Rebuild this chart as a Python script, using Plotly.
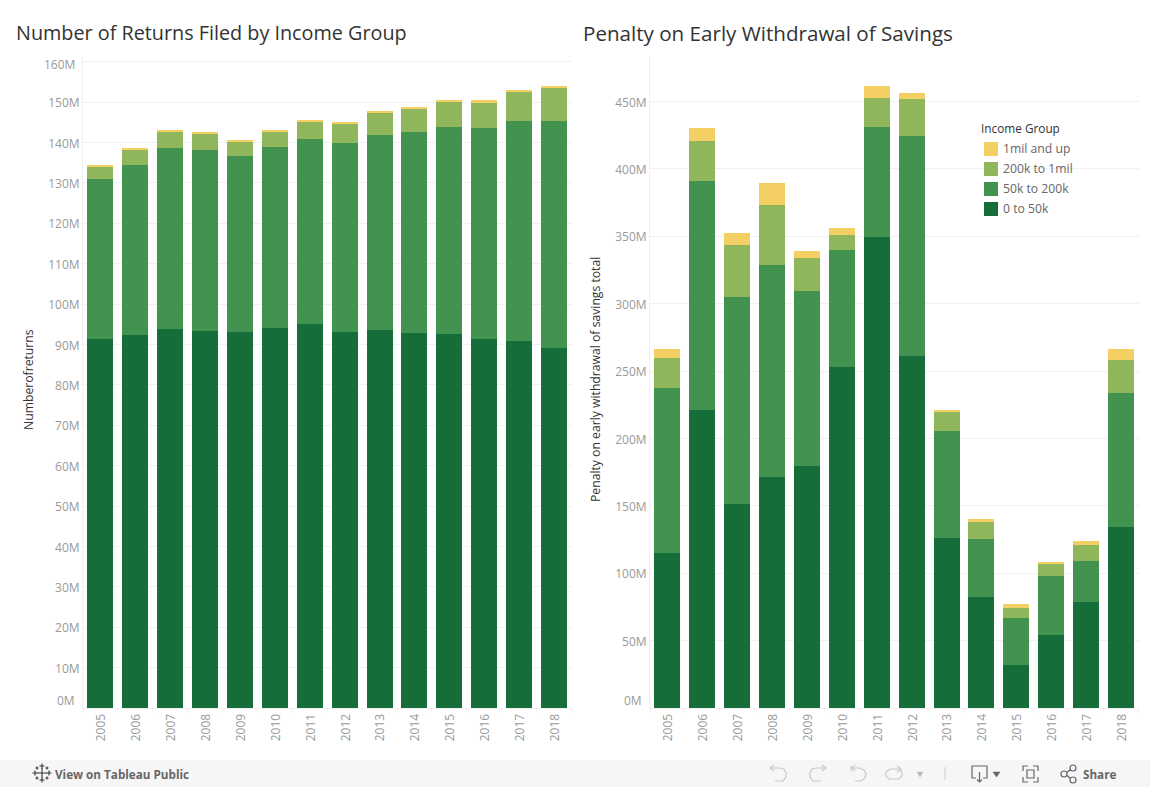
import plotly.graph_objects as go

W, H = 1150, 787
years = [str(y) for y in range(2005, 2019)]
group_names = ["0 to 50k", "50k to 200k", "200k to 1mil", "1mil and up"]
group_colors = ["#156E39", "#42934F", "#8FB65A", "#F3CF64"]

returns_0_50k = [91.3, 92.3, 93.8, 93.3, 93.0, 94.0, 95.0, 93.0, 93.5, 92.8, 92.5, 91.3, 90.8, 89.0]
returns_50_200k = [39.7, 42.1, 44.8, 44.8, 43.6, 44.9, 45.8, 46.9, 48.3, 49.8, 51.3, 52.3, 54.5, 56.3]
returns_200k_1mil = [3.1, 3.7, 4.2, 4.2, 3.7, 3.9, 4.5, 4.9, 5.5, 5.7, 6.4, 6.4, 7.2, 8.2]
returns_1mil_up = [0.3, 0.5, 0.4, 0.3, 0.4, 0.3, 0.2, 0.2, 0.3, 0.4, 0.4, 0.4, 0.5, 0.5]

penalty_0_50k = [115.0, 221.0, 151.3, 171.4, 179.5, 253.0, 349.4, 261.0, 126.0, 82.3, 31.9, 54.2, 78.6, 134.3]
penalty_50_200k = [122.4, 170.0, 153.6, 157.2, 129.8, 86.8, 81.6, 163.3, 79.5, 43.1, 34.9, 43.7, 30.4, 99.4]
penalty_200k_1mil = [22.2, 29.6, 38.6, 44.4, 24.5, 11.1, 21.5, 27.5, 14.1, 12.6, 7.4, 8.9, 11.9, 24.5]
penalty_1mil_up = [6.7, 9.7, 8.9, 16.5, 5.2, 5.1, 8.9, 4.4, 1.4, 2.2, 3.0, 1.5, 3.0, 8.1]

returns_ticks = list(range(0, 170, 10))
penalty_ticks = list(range(0, 500, 50))
returns_series = [returns_0_50k, returns_50_200k, returns_200k_1mil, returns_1mil_up]
penalty_series = [penalty_0_50k, penalty_50_200k, penalty_200k_1mil, penalty_1mil_up]

FONT = "Open Sans"
GRID = "#F0F0F0"
TICK = "#999999"


def fx(x):
    return x / W


def fy(y):
    return 1 - y / H


fig = go.Figure()
for name, color, l, r in zip(group_names, group_colors, returns_series, penalty_series):
    fig.add_bar(x=years, y=l, name=name, marker=dict(color=color, line_width=0),
                xaxis="x", yaxis="y", showlegend=False)
    fig.add_bar(x=years, y=r, name=name, marker=dict(color=color, line_width=0),
                xaxis="x2", yaxis="y2", showlegend=False)

shapes = []
annotations = []


def text(x, y, s, size=12, color="#666666", anchor="left", angle=0, family=FONT, yanchor="middle"):
    annotations.append(dict(x=fx(x), y=fy(y), xref="paper", yref="paper", text=s, showarrow=False,
                            xanchor=anchor, yanchor=yanchor, textangle=angle,
                            font=dict(size=size, color=color, family=family)))


def rect(x0, y0, x1, y1, color, layer="above"):
    shapes.append(dict(type="rect", xref="paper", yref="paper", x0=fx(x0), x1=fx(x1), y0=fy(y0), y1=fy(y1),
                       fillcolor=color, line_width=0, layer=layer))


def path(points, color, width=1.2, fill=None, close=False):
    d = ""
    for i, p in enumerate(points):
        if p is None:
            continue
        cmd = "M" if i == 0 or points[i - 1] is None else "L"
        d += f"{cmd}{fx(p[0]):.5f},{fy(p[1]):.5f} "
    if close:
        d += "Z"
    shapes.append(dict(type="path", xref="paper", yref="paper", path=d,
                       line=dict(color=color, width=width), fillcolor=fill or "rgba(0,0,0,0)"))


def circle(cx, cy, r, color, width=1.2):
    shapes.append(dict(type="circle", xref="paper", yref="paper", x0=fx(cx - r), x1=fx(cx + r),
                       y0=fy(cy - r), y1=fy(cy + r), line=dict(color=color, width=width)))


text(14, 33, "Number of Returns Filed by Income Group", size=19.8, color="#333333")
text(581, 32.5, "Penalty on Early Withdrawal of Savings", size=20.6, color="#333333")
text(28, 380, "Numberofreturns", size=12.2, color="#333333", anchor="center", angle=-90)
text(595, 380, "Penalty on early withdrawal of savings total", size=12.2, color="#333333", anchor="center", angle=-90)

# End labels that the reference pushes inside the plot area
text(77, 65, "160M", color=TICK, anchor="right")
text(77, 700, "0M", color=TICK, anchor="right")
text(644, 700, "0M", color=TICK, anchor="right")

# Legend
text(979, 128.5, "Income Group", size=11.8, color="#333333")
for i, name in enumerate(reversed(group_names)):
    color = list(reversed(group_colors))[i]
    rect(984, 142 + 20 * i, 998, 156 + 20 * i, color)
    text(1001, 148.5 + 20 * i, name, size=12.2, color="#666666")

# Toolbar
rect(0, 760, W, H, "#F6F6F6")
text(53, 773.5, "<b>View on Tableau Public</b>", size=11.7, color="#666666")
text(1081, 773.5, "<b>Share</b>", size=11.7, color="#666666")
DK = "#333333"
for cx, cy, r in [(42, 773, 5), (35, 773, 2.5), (49, 773, 2.5), (42, 766, 2.5), (42, 780, 2.5),
                  (37, 768, 1.5), (47, 768, 1.5), (37, 778, 1.5), (47, 778, 1.5)]:
    path([(cx - r, cy), (cx + r, cy), None, (cx, cy - r), (cx, cy + r)], DK, width=1.1)

LT = "#C8C8C8"
path([(771, 768), (780, 768), (784, 769), (786, 773), (786, 777), (783, 781), (775, 781)], LT)
path([(774, 765), (770, 768), (774, 771)], LT)
path([(825, 768), (816, 768), (812, 769), (810, 773), (810, 777), (813, 781), (821, 781)], LT)
path([(822, 765), (826, 768), (822, 771)], LT)
path([(851, 766), (851, 771), None, (853, 768), (860, 768), (864, 770), (866, 774), (865, 778), (861, 781), (855, 781)], LT)
path([(855, 765), (852, 768), (855, 771)], LT)
path([(890, 769), (899, 769), (902, 772), (902, 776), (899, 779), (889, 779), (886, 776), (886, 772), (890, 769)], LT)
path([(897, 766), (901, 769), (897, 772)], LT)
path([(917, 772), (923, 772), (920, 777)], "#BBBBBB", width=0.5, fill="#BBBBBB", close=True)
path([(945, 767), (945, 780)], "#CCCCCC", width=1)
MD = "#666666"
path([(976, 778), (972, 778), (972, 766), (987, 766), (987, 778), (983, 778)], MD)
path([(979.5, 772), (979.5, 782), None, (977, 779.5), (979.5, 782), (982, 779.5)], MD)
path([(993, 772), (1000, 772), (996.5, 777)], MD, width=0.5, fill=MD, close=True)
path([(1023, 771), (1023, 766), (1028, 766), None, (1033, 766), (1038, 766), (1038, 771), None,
      (1038, 777), (1038, 782), (1033, 782), None, (1028, 782), (1023, 782), (1023, 777)], MD)
path([(1027, 770), (1034, 770), (1034, 778), (1027, 778)], MD, close=True)
circle(1064, 774, 3, MD)
circle(1073, 768, 3, MD)
circle(1073, 780, 3, MD)
path([(1067, 772.5), (1070.5, 769.5), None, (1067, 775.5), (1070.5, 778.5)], MD)

xaxis_common = dict(type="category", categoryorder="array", categoryarray=years, tickangle=-90,
                    tickson="boundaries", ticks="outside", ticklen=4, tickcolor=GRID, tickwidth=1,
                    showgrid=False, showline=True, linecolor=GRID, linewidth=1, zeroline=False,
                    tickfont=dict(size=12, color=TICK, family=FONT), fixedrange=True,
                    ticklabelshift=1)
yaxis_common = dict(showgrid=True, gridcolor=GRID, gridwidth=1, zeroline=False, showline=True,
                    linecolor=GRID, linewidth=1, ticks="", tickfont=dict(size=12, color=TICK, family=FONT),
                    ticklabelstandoff=0, ticklabelshift=1)

fig.update_layout(
    width=W, height=H, autosize=False, barmode="stack", bargap=0.255,
    margin=dict(l=0, r=0, t=0, b=0), paper_bgcolor="white", plot_bgcolor="white",
    font=dict(family=FONT), showlegend=False,
    xaxis={**xaxis_common, "domain": [fx(83), fx(571.5)], "anchor": "y"},
    xaxis2={**xaxis_common, "domain": [fx(650), fx(1138.5)], "anchor": "y2"},
    yaxis={**yaxis_common, "domain": [fy(708), fy(56)], "range": [0, 161.4], "anchor": "x",
           "tickvals": returns_ticks,
           "ticktext": ["" if v in (0, 160) else f"{v}M" for v in returns_ticks]},
    yaxis2={**yaxis_common, "domain": [fy(708), fy(56)], "range": [0, 483.7], "anchor": "x2",
            "tickvals": penalty_ticks,
            "ticktext": ["" if v == 0 else f"{v}M" for v in penalty_ticks]},
    shapes=shapes, annotations=annotations,
)

fig.write_html("out.html", config=dict(displayModeBar=False),
               post_script="document.body.style.margin='0';document.body.style.overflow='hidden';")
